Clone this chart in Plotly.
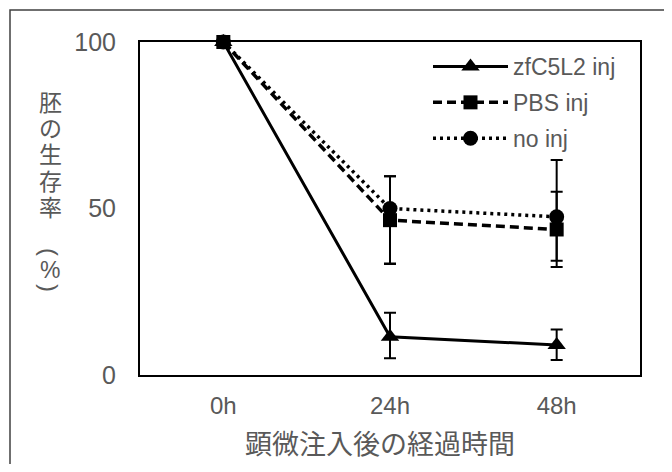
import plotly.graph_objects as go

categories = ["0h", "24h", "48h"]
series_names = ["zfC5L2 inj", "PBS inj", "no inj"]

zf_values = [100, 11.5, 9.0]
zf_err_plus = [0, 7.2, 4.7]
zf_err_minus = [0, 6.5, 4.5]

pbs_values = [100, 46.5, 43.7]
pbs_err_plus = [0, 13.2, 11.3]
pbs_err_minus = [0, 13.0, 11.3]

noinj_values = [100, 50.0, 47.5]
noinj_err_plus = [0, 9.7, 17.1]
noinj_err_minus = [0, 16.7, 13.2]

y_ticks = [0, 50, 100]
y_title_chars = ["胚", "の", "生", "存", "率", "(", "%", ")"]
x_title = "顕微注入後の経過時間"

FONT = "Liberation Sans, Arial, Noto Sans CJK JP, sans-serif"
GRAY = "#595959"

# page is offset by the 8px body margin, so figure is 656x456
W, H = 656, 456
L, T, PW, PH = 132, 34, 500, 333


def px(xp):  # page x -> paper
    return (xp - 140) / PW


def py(yp):  # page y -> paper
    return (375 - yp) / PH


fig = go.Figure()

styles = [
    (zf_values, zf_err_plus, zf_err_minus, "solid", "triangle-up", 16, 3),
    (pbs_values, pbs_err_plus, pbs_err_minus, "9px,5px", "square", 14, 3.5),
    (noinj_values, noinj_err_plus, noinj_err_minus, "3px,4px", "circle", 15, 3.5),
]

for i, (vals, ep, em, dash, sym, msize, lw) in enumerate(styles):
    fig.add_trace(go.Scatter(
        x=categories, y=vals, name=series_names[i],
        mode="lines+markers",
        line=dict(color="black", width=lw, dash=dash),
        marker=dict(symbol=sym, size=msize, color="black"),
        error_y=dict(type="data", symmetric=False, array=ep, arrayminus=em,
                     color="black", thickness=2, width=6),
        cliponaxis=False,
        legendgroup=f"g{i}",
    ))

fig.update_layout(
    width=W, height=H,
    margin=dict(l=L, r=W - L - PW, t=T, b=H - T - PH),
    paper_bgcolor="white", plot_bgcolor="white",
    font=dict(family=FONT, color=GRAY, size=22),
    showlegend=True,
    legend=dict(x=px(428), y=py(45), xanchor="left", yanchor="top",
                bgcolor="rgba(0,0,0,0)", font=dict(size=23, color=GRAY),
                tracegroupgap=3, itemwidth=75),
    xaxis=dict(type="category", range=[-0.5, 2.5], showgrid=False, zeroline=False,
               showline=True, linecolor="black", linewidth=2, mirror=True,
               ticks="", tickfont=dict(size=24, color=GRAY), ticklabelstandoff=8),
    yaxis=dict(range=[0, 100], tickvals=y_ticks, showgrid=False, zeroline=False,
               showline=True, linecolor="black", linewidth=2, mirror=True,
               ticks="", tickfont=dict(size=25, color=GRAY), ticklabelstandoff=17),
)

# y-axis title stacked vertically, one character per line
# (parentheses are turned 90 degrees, as in vertical Japanese text)
char_y = [103, 129, 155, 182, 208, 252, 270, 288]
char_size = [23, 23, 23, 23, 23, 24, 23, 24]
char_angle = [0, 0, 0, 0, 0, 90, 0, 90]
for ch, yy, sz, ang in zip(y_title_chars, char_y, char_size, char_angle):
    fig.add_annotation(text=ch, xref="paper", yref="paper",
                       x=px(50), y=py(yy), xanchor="center", yanchor="middle",
                       textangle=ang, showarrow=False,
                       font=dict(size=sz, color=GRAY))

# x-axis title
fig.add_annotation(text=x_title, xref="paper", yref="paper",
                   x=px(380), y=py(445), xanchor="center", yanchor="middle",
                   showarrow=False, font=dict(size=27, color=GRAY))

# outer chart frame
fig.add_shape(type="rect", xref="paper", yref="paper",
              x0=px(10), x1=px(700), y0=py(500), y1=py(10),
              line=dict(color="#404040", width=1.5), layer="below")

fig.write_html("out.html")
